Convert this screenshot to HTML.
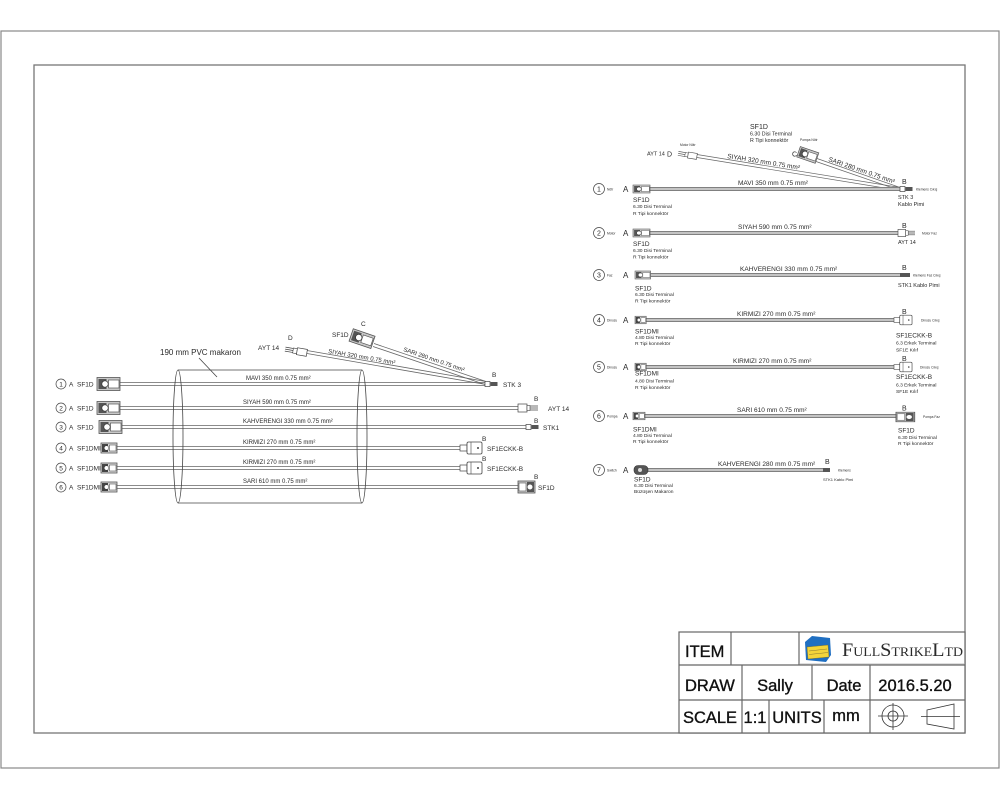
<!DOCTYPE html>
<html><head><meta charset="utf-8">
<style>
html,body{margin:0;padding:0;background:#fff;}
svg{display:block;}
text{font-family:"Liberation Sans",Arial,sans-serif;fill:#2a2a2a;}
.tb{font-size:16.5px;fill:#111;stroke:#111;stroke-width:0.35px;}
</style></head><body>
<svg width="1000" height="800" viewBox="0 0 1000 800" xmlns="http://www.w3.org/2000/svg">
<defs>
<g id="cA"><rect x="0" y="-6.5" width="23" height="13" fill="#c8c8c8" stroke="#555" stroke-width="0.8"/><rect x="1.5" y="-5" width="8" height="10" fill="#555"/><circle cx="8" cy="0" r="3.2" fill="#fff" stroke="#333" stroke-width="0.7"/><rect x="11.5" y="-4" width="10.5" height="8" fill="#fff" stroke="#555" stroke-width="0.7"/></g>
<g id="cM"><rect x="0" y="-5" width="16" height="10" fill="#d8d8d8" stroke="#555" stroke-width="0.8"/><rect x="1" y="-4" width="6" height="8" fill="#444"/><circle cx="5.5" cy="0" r="2.3" fill="#fff" stroke="#333" stroke-width="0.5"/><rect x="8.5" y="-3" width="6.5" height="6" fill="#fff" stroke="#555" stroke-width="0.6"/></g>
<g id="cS"><rect x="0" y="-2.5" width="5" height="5" fill="#fff" stroke="#444" stroke-width="0.7"/><rect x="5.5" y="-2" width="7" height="4" fill="#555"/></g>
<g id="cY"><rect x="0" y="-4" width="9" height="8" fill="#fff" stroke="#444" stroke-width="0.7"/><rect x="9" y="-2.5" width="3" height="5" fill="#fff" stroke="#444" stroke-width="0.6"/><path d="M12,-2H20M12,0H20M12,2H20" stroke="#444" stroke-width="0.7"/></g>
<g id="cE"><rect x="0" y="-3" width="7" height="6" fill="#fff" stroke="#444" stroke-width="0.7"/><rect x="7" y="-6" width="15" height="12" rx="1.5" fill="#fff" stroke="#444" stroke-width="0.8"/><line x1="11" y1="-6" x2="11" y2="6" stroke="#444" stroke-width="0.6"/><circle cx="18" cy="0" r="1" fill="#444"/></g>
<g id="cB"><rect x="0" y="-6" width="17" height="12" fill="#c8c8c8" stroke="#555" stroke-width="0.8"/><rect x="1" y="-4" width="7" height="8" fill="#fff" stroke="#555" stroke-width="0.6"/><rect x="9" y="-5" width="7" height="10" fill="#555"/><circle cx="12" cy="0" r="2.5" fill="#fff"/></g>
</defs>
<rect width="1000" height="800" fill="#fff"/>
<!-- frames -->
<rect x="1" y="31" width="998" height="737" fill="none" stroke="#888" stroke-width="1.2"/>
<rect x="34" y="65" width="931" height="668" fill="none" stroke="#777" stroke-width="1.3"/>

<!-- ================= LEFT DIAGRAM ================= -->
<g stroke="#666" stroke-width="0.8" fill="none">
<path d="M120,382.5H485M120,385.5H485"/>
<path d="M120,406.5H518M120,409.5H518"/>
<path d="M122,425.5H526M122,428.5H526"/>
<path d="M117,446.5H460M117,449.5H460"/>
<path d="M117,466.5H460M117,469.5H460"/>
<path d="M117,485.5H518M117,488.5H518"/>
<path d="M307,350.5L486,381.5M307,353.5L486,384.5"/>
<path d="M374,343.5L486,381.5M373,346.5L485,384.5"/>
</g>
<g stroke="#444" stroke-width="0.8" fill="none">
<line x1="178" y1="370" x2="362" y2="370"/>
<line x1="178" y1="503" x2="362" y2="503"/>
<ellipse cx="178" cy="436.5" rx="5" ry="66.5"/>
<ellipse cx="362" cy="436.5" rx="5" ry="66.5"/>
<line x1="199" y1="358" x2="217" y2="377"/>
</g>
<text x="160" y="355" font-size="8">190 mm PVC makaron</text>

<g fill="none" stroke="#444" stroke-width="0.7">
<circle cx="61" cy="384" r="5"/><circle cx="61" cy="408" r="5"/><circle cx="61" cy="427" r="5"/>
<circle cx="61" cy="448" r="5"/><circle cx="61" cy="468" r="5"/><circle cx="61" cy="487" r="5"/>
</g>
<g font-size="6.5" text-anchor="middle">
<text x="61" y="386.3">1</text><text x="61" y="410.3">2</text><text x="61" y="429.3">3</text>
<text x="61" y="450.3">4</text><text x="61" y="470.3">5</text><text x="61" y="489.3">6</text>
</g>
<g font-size="6.5">
<text x="69" y="386.5">A</text><text x="77" y="386.5">SF1D</text>
<text x="69" y="410.5">A</text><text x="77" y="410.5">SF1D</text>
<text x="69" y="429.5">A</text><text x="77" y="429.5">SF1D</text>
<text x="69" y="450.5">A</text><text x="77" y="450.5">SF1DMI</text>
<text x="69" y="470.5">A</text><text x="77" y="470.5">SF1DMI</text>
<text x="69" y="489.5">A</text><text x="77" y="489.5">SF1DMI</text>
</g>
<use href="#cA" x="97" y="384"/>
<use href="#cA" x="97" y="408"/>
<use href="#cA" x="99" y="427"/>
<use href="#cM" x="101" y="448"/>
<use href="#cM" x="101" y="468"/>
<use href="#cM" x="101" y="487"/>
<g font-size="6">
<text x="246" y="380">MAVI 350 mm 0.75 mm²</text>
<text x="243" y="404">SIYAH 590 mm 0.75 mm²</text>
<text x="243" y="423">KAHVERENGI 330 mm 0.75 mm²</text>
<text x="243" y="444">KIRMIZI 270 mm 0.75 mm²</text>
<text x="243" y="464">KIRMIZI 270 mm 0.75 mm²</text>
<text x="243" y="483">SARI 610 mm 0.75 mm²</text>
<text transform="translate(328,353) rotate(9.8)">SIYAH 320 mm 0.75 mm²</text>
<text transform="translate(403,351) rotate(18.9)">SARI 280 mm 0.75 mm²</text>
</g>
<use href="#cS" x="485" y="384"/>
<use href="#cY" x="518" y="408"/>
<use href="#cS" x="526" y="427"/>
<use href="#cE" x="460" y="448"/>
<use href="#cE" x="460" y="468"/>
<use href="#cB" x="518" y="487"/>
<g transform="translate(296,351) rotate(9.8) translate(-11,0)">
<path d="M0,-2H8M0,0H8M0,2H8" stroke="#444" stroke-width="0.7"/>
<rect x="8" y="-2.5" width="4" height="5" fill="#fff" stroke="#444" stroke-width="0.6"/>
<rect x="12" y="-3.5" width="10" height="7" fill="#fff" stroke="#444" stroke-width="0.7"/>
</g>
<g transform="translate(363,339) rotate(18.9) translate(-12.5,0)"><use href="#cA"/></g>
<g font-size="6.5">
<text x="492" y="377">B</text><text x="503" y="387">STK 3</text>
<text x="534" y="401">B</text><text x="548" y="411">AYT 14</text>
<text x="534" y="423">B</text><text x="543" y="430">STK1</text>
<text x="482" y="441">B</text><text x="487" y="451">SF1ECKK-B</text>
<text x="482" y="461">B</text><text x="487" y="471">SF1ECKK-B</text>
<text x="534" y="479">B</text><text x="538" y="490">SF1D</text>
<text x="258" y="350">AYT 14</text><text x="288" y="340">D</text>
<text x="332" y="337">SF1D</text><text x="361" y="326">C</text>
</g>

<!-- ================= RIGHT DIAGRAM ================= -->
<g font-size="7"><text x="750" y="129">SF1D</text></g>
<g font-size="5.3">
<text x="750" y="135.5">6.30 Disi Terminal</text>
<text x="750" y="142">R Tipi konnektör</text>
</g>
<g stroke="#666" stroke-width="0.7" fill="none">
<path d="M697,154.5L900,187.5M697,157.5L900,190.5"/>
<path d="M817,158.5L900,187.5M816,161.5L900,190.5"/>
</g>
<g transform="translate(688,155) rotate(9.2) translate(-10,0)">
<path d="M0,-2H7M0,0H7M0,2H7" stroke="#444" stroke-width="0.6"/>
<rect x="7" y="-2" width="3" height="4" fill="#fff" stroke="#444" stroke-width="0.5"/>
<rect x="10" y="-3" width="9" height="6" fill="#fff" stroke="#444" stroke-width="0.6"/>
</g>
<g transform="translate(808,155) rotate(19) translate(-10,0) scale(0.85,0.85)"><use href="#cA"/></g>
<g font-size="5.5"><text x="647" y="155.5">AYT 14</text></g>
<g font-size="7"><text x="667" y="156.5">D</text><text x="792" y="156.5">C</text></g>
<g font-size="3.3"><text x="680" y="146">Motor Nötr</text><text x="800" y="141">Pompa Nötr</text></g>
<g font-size="6.5">
<text transform="translate(727,158) rotate(9.2)">SIYAH 320 mm 0.75 mm²</text>
<text transform="translate(828,161) rotate(19)">SARI 280 mm 0.75 mm²</text>
</g>

<g stroke="#777" stroke-width="4" fill="none">
<path d="M650,189H900M650,233H898M650,275H900M645,320H894M645,367H894M645,416H896M648,470H823"/>
</g>
<g stroke="#c4c4c4" stroke-width="2.2" fill="none">
<path d="M650,189H900M650,233H898M650,275H900M645,320H894M645,367H894M645,416H896M648,470H823"/>
</g>
<g fill="none" stroke="#444" stroke-width="0.7">
<circle cx="599" cy="189" r="5.5"/><circle cx="599" cy="233" r="5.5"/><circle cx="599" cy="275" r="5.5"/>
<circle cx="599" cy="320" r="5.5"/><circle cx="599" cy="367" r="5.5"/><circle cx="599" cy="416" r="5.5"/>
<circle cx="599" cy="470" r="5.5"/>
</g>
<g font-size="7" text-anchor="middle">
<text x="599" y="191.5">1</text><text x="599" y="235.5">2</text><text x="599" y="277.5">3</text>
<text x="599" y="322.5">4</text><text x="599" y="369.5">5</text><text x="599" y="418.5">6</text>
<text x="599" y="472.5">7</text>
</g>
<g font-size="3.3">
<text x="607" y="190.5">Nötr</text><text x="607" y="234.5">Motor</text><text x="607" y="276.5">Faz</text>
<text x="607" y="321.5">Dinozu</text><text x="607" y="368.5">Dinozu</text><text x="607" y="417.5">Pompa</text>
<text x="607" y="471.5">Switch</text>
<text x="916" y="190.5">Klemens Cıkış</text><text x="922" y="234.5">Motor Faz</text>
<text x="913" y="276.5">Klemens Faz Cıkış</text><text x="921" y="321.5">Dinozu Cıkış</text>
<text x="920" y="368.5">Dinozu Cıkış</text><text x="923" y="418">Pompa Faz</text>
<text x="838" y="471.5">Klemens</text>
</g>
<g font-size="8">
<text x="623" y="192">A</text><text x="623" y="236">A</text><text x="623" y="278">A</text>
<text x="623" y="323">A</text><text x="623" y="370">A</text><text x="623" y="419">A</text>
<text x="623" y="473">A</text>
</g>
<g font-size="7">
<text x="902" y="184">B</text><text x="902" y="228">B</text><text x="902" y="270">B</text>
<text x="902" y="314">B</text><text x="902" y="361">B</text><text x="902" y="410.5">B</text>
<text x="825" y="464">B</text>
</g>
<g transform="translate(633,189) scale(0.74,0.62)"><use href="#cA"/></g>
<g transform="translate(633,233) scale(0.74,0.62)"><use href="#cA"/></g>
<g transform="translate(635,275) scale(0.68,0.62)"><use href="#cA"/></g>
<g transform="translate(635,320) scale(0.7,0.75)"><use href="#cM"/></g>
<g transform="translate(635,367) scale(0.7,0.75)"><use href="#cM"/></g>
<g transform="translate(633,416) scale(0.75,0.75)"><use href="#cM"/></g>
<rect x="634" y="465.5" width="14" height="9" rx="4" fill="#555" stroke="#333" stroke-width="0.6"/>
<circle cx="640" cy="470" r="2" fill="#ddd"/>
<use href="#cS" x="900" y="189"/>
<g transform="translate(898,233) scale(0.85,0.9)"><use href="#cY"/></g>
<rect x="900" y="273" width="10" height="4" fill="#555"/>
<g transform="translate(894,320) scale(0.82,0.8)"><use href="#cE"/></g>
<g transform="translate(894,367) scale(0.82,0.8)"><use href="#cE"/></g>
<g transform="translate(896,417) scale(1.1,0.8)"><use href="#cB"/></g>
<rect x="823" y="468" width="7" height="4" fill="#555"/>
<g font-size="6.5">
<text x="738" y="185">MAVI 350 mm 0.75 mm²</text>
<text x="738" y="229">SIYAH 590 mm 0.75 mm²</text>
<text x="740" y="271">KAHVERENGI 330 mm 0.75 mm²</text>
<text x="737" y="316">KIRMIZI 270 mm 0.75 mm²</text>
<text x="733" y="363">KIRMIZI 270 mm 0.75 mm²</text>
<text x="737" y="412">SARI 610 mm 0.75 mm²</text>
<text x="718" y="466">KAHVERENGI 280 mm 0.75 mm²</text>
</g>
<g font-size="6.5">
<text x="633" y="202">SF1D</text>
<text x="633" y="246">SF1D</text>
<text x="635" y="290.5">SF1D</text>
<text x="635" y="333.5">SF1DMI</text>
<text x="635" y="375.5">SF1DMI</text>
<text x="633" y="431.5">SF1DMI</text>
<text x="634" y="481.5">SF1D</text>
<text x="896" y="337.5">SF1ECKK-B</text>
<text x="896" y="379">SF1ECKK-B</text>
<text x="898" y="432.5">SF1D</text>
</g>
<g font-size="5.5">
<text x="898" y="199">STK 3</text>
<text x="898" y="206">Kablo Pimi</text>
<text x="898" y="244">AYT 14</text>
<text x="898" y="287">STK1 Kablo Pimi</text>
</g>
<g font-size="4.9">
<text x="633" y="208">6.30 Disi Terminal</text>
<text x="633" y="215">R Tipi konnektör</text>
<text x="633" y="252">6.30 Disi Terminal</text>
<text x="633" y="258.5">R Tipi konnektör</text>
<text x="635" y="296">6.30 Disi Terminal</text>
<text x="635" y="302.5">R Tipi konnektör</text>
<text x="635" y="339">4.80 Disi Terminal</text>
<text x="635" y="345">R Tipi konnektör</text>
<text x="635" y="382.5">4.80 Disi Terminal</text>
<text x="635" y="389">R Tipi konnektör</text>
<text x="633" y="437">4.80 Disi Terminal</text>
<text x="633" y="443">R Tipi konnektör</text>
<text x="634" y="487">6.30 Disi Terminal</text>
<text x="634" y="493">Büzüşen Makaron</text>
<text x="896" y="344.5">6.3 Erkek Terminal</text>
<text x="896" y="351.5">SF1E Kılıf</text>
<text x="896" y="386.5">6.3 Erkek Terminal</text>
<text x="896" y="393">SF1E Kılıf</text>
<text x="898" y="439">6.30 Disi Terminal</text>
<text x="898" y="445">R Tipi konnektör</text>
</g>
<g font-size="4"><text x="823" y="481">STK1 Kablo Pimi</text></g>

<!-- ================= TITLE BLOCK ================= -->
<g stroke="#666" stroke-width="1.2" fill="none">
<rect x="679" y="632" width="286" height="101" fill="#fff"/>
<line x1="679" y1="665" x2="965" y2="665"/>
<line x1="679" y1="700" x2="965" y2="700"/>
<line x1="731" y1="632" x2="731" y2="665"/>
<line x1="799" y1="632" x2="799" y2="665"/>
<line x1="742" y1="665" x2="742" y2="733"/>
<line x1="812" y1="665" x2="812" y2="700"/>
<line x1="870" y1="665" x2="870" y2="733"/>
<line x1="769" y1="700" x2="769" y2="733"/>
<line x1="824" y1="700" x2="824" y2="733"/>
</g>
<text class="tb" x="685" y="657">ITEM</text>
<text class="tb" x="685" y="691">DRAW</text>
<text class="tb" x="775" y="691" text-anchor="middle">Sally</text>
<text class="tb" x="844" y="691" text-anchor="middle">Date</text>
<text class="tb" x="915" y="691" text-anchor="middle">2016.5.20</text>
<text class="tb" x="683" y="723" textLength="54" lengthAdjust="spacingAndGlyphs">SCALE</text>
<text class="tb" x="755" y="723" text-anchor="middle">1:1</text>
<text class="tb" x="797" y="723" text-anchor="middle">UNITS</text>
<text class="tb" x="846" y="721" text-anchor="middle">mm</text>
<path d="M805,642 L812,636 L830,638 L831,655 L826,662 L806,660 Z" fill="#1f6fc2"/>
<path d="M807,647 L828,645 L829,657 L808,659 Z" fill="#f3d43a" stroke="#7a6a20" stroke-width="0.4"/>
<path d="M809,651 L827,649 M809,654.5 L828,652.5" stroke="#8a7a30" stroke-width="0.5"/>
<text x="842" y="656" font-size="19" style="font-variant:small-caps;font-family:'Liberation Serif',serif" fill="#333" textLength="121" lengthAdjust="spacingAndGlyphs">FullStrikeLtd</text>
<line x1="800" y1="664" x2="964" y2="664" stroke="#aaa" stroke-width="0.8"/>
<g stroke="#333" stroke-width="0.8" fill="none">
<circle cx="893" cy="716" r="11"/>
<circle cx="893" cy="716" r="5"/>
<line x1="878" y1="716" x2="908" y2="716"/>
<line x1="893" y1="703" x2="893" y2="730"/>
<path d="M927,710 L954,704 L954,729 L927,724 Z"/>
<line x1="921" y1="716.5" x2="960" y2="716.5"/>
</g>
</svg>
</body></html>
